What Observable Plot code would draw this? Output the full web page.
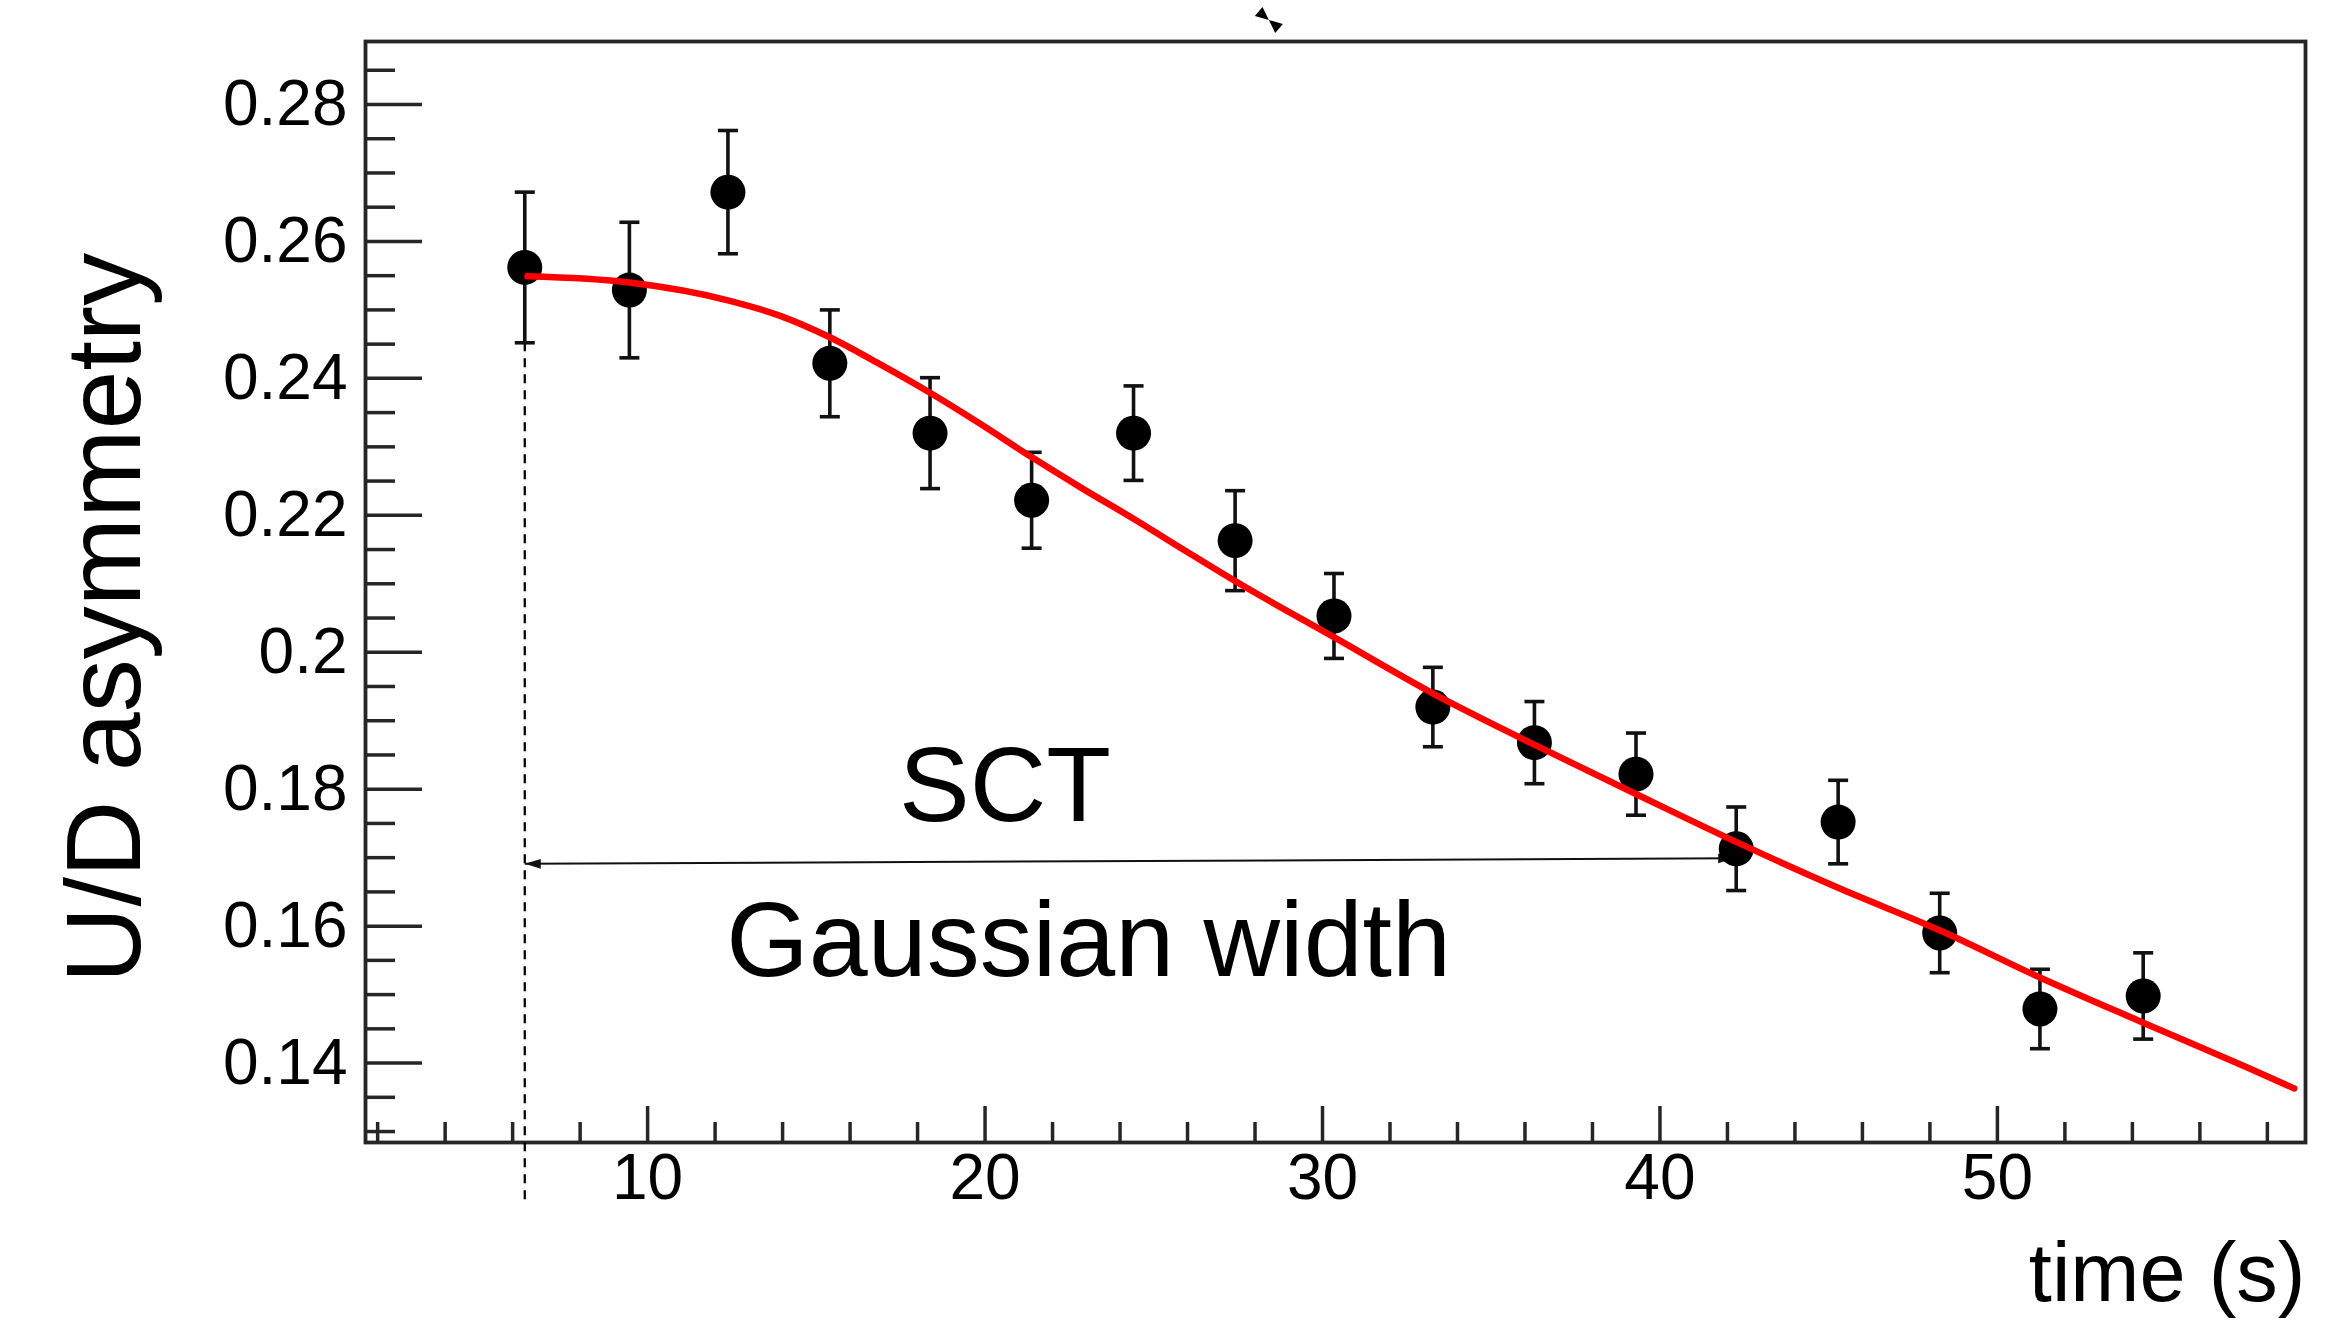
<!DOCTYPE html>
<html>
<head>
<meta charset="utf-8">
<script src="https://cdn.jsdelivr.net/npm/d3@7"></script>
<script src="https://cdn.jsdelivr.net/npm/@observablehq/plot@0.6"></script>
<style>
  html, body { margin: 0; padding: 0; background: #ffffff; }
  #chart svg { display: block; }
</style>
</head>
<body>
<div id="chart"></div>
<script>
// ---- data ----
const times   = [6.36, 9.46, 12.38, 15.40, 18.37, 21.38, 24.40, 27.41, 30.34, 33.27, 36.28, 39.29, 42.26, 45.28, 48.29, 51.26, 54.32];
const asym    = [0.2562, 0.2529, 0.2672, 0.2422, 0.2320, 0.2222, 0.2320, 0.2163, 0.2053, 0.1920, 0.1868, 0.1822, 0.1713, 0.1752, 0.1590, 0.1479, 0.1498];
const asymErr = [0.0110, 0.0099, 0.0090, 0.0078, 0.0081, 0.0070, 0.0069, 0.0073, 0.0062, 0.0058, 0.0060, 0.0060, 0.0061, 0.0061, 0.0058, 0.0058, 0.0063];

const fitTimes = [6.44, 9.46, 12.38, 13.89, 15.40, 16.91, 18.37, 19.88, 21.38, 22.89, 24.40, 25.91, 27.41, 30.34, 33.27, 36.28, 39.29, 42.26, 45.28, 48.29, 51.26, 54.32, 57.34, 58.80];
const fitAsym  = [0.2549, 0.2540, 0.2514, 0.2492, 0.2460, 0.2420, 0.2379, 0.2333, 0.2285, 0.2239, 0.2195, 0.2149, 0.2104, 0.2022, 0.1940, 0.1865, 0.1793, 0.1723, 0.1656, 0.1594, 0.1525, 0.1459, 0.1395, 0.1363];

// ---- axes ----
const xMajorTicks = [10, 20, 30, 40, 50];
const xTickLabels = ["10", "20", "30", "40", "50"];
const xMinorTicks = [2, 4, 6, 8, 12, 14, 16, 18, 22, 24, 26, 28, 32, 34, 36, 38, 42, 44, 46, 48, 52, 54, 56, 58];
const yMajorTicks = [0.14, 0.16, 0.18, 0.2, 0.22, 0.24, 0.26, 0.28];
const yTickLabels = ["0.14", "0.16", "0.18", "0.2", "0.22", "0.24", "0.26", "0.28"];
const yMinorTicks = [0.13, 0.135, 0.145, 0.15, 0.155, 0.165, 0.17, 0.175, 0.185, 0.19, 0.195, 0.205, 0.21, 0.215, 0.225, 0.23, 0.235, 0.245, 0.25, 0.255, 0.265, 0.27, 0.275, 0.285];
const xDomain = [1.64, 59.13];
const yDomain = [0.1284, 0.2892];
const xTitle = "time (s)";
const yTitle = "U/D asymmetry";

// ---- annotations ----
const annoLabels = ["SCT", "Gaussian width"];
const annoTimes  = [20.59, 23.07];
const annoAsym   = [0.1754, 0.1527];
const widthStart = [6.36, 0.1691];   // arrow start (t, asym)
const widthEnd   = [42.2, 0.1699];   // arrow end (t, asym)
const dashedLine = [6.36, 0.2452, 0.1199]; // t, from asym, to asym
const topMarker  = [28.41, 0.29234];

// ---- tables built from the arrays ----
const pts = times.map((t, i) => ({t, a: asym[i], lo: asym[i] - asymErr[i], hi: asym[i] + asymErr[i]}));
const fit = fitTimes.map((t, i) => ({t, a: fitAsym[i]}));
const annos = annoLabels.map((label, i) => ({label, t: annoTimes[i], a: annoAsym[i]}));
const yLabelOf = new Map(yMajorTicks.map((v, i) => [v, yTickLabels[i]]));
const xLabelOf = new Map(xMajorTicks.map((v, i) => [v, xTickLabels[i]]));

// ---- custom symbols ----
const capSymbol = {draw(ctx, size) { const r = Math.sqrt(size / Math.PI); ctx.moveTo(-r, 0); ctx.lineTo(r, 0); }};
const headLeft  = {draw(ctx, size) { const r = Math.sqrt(size / Math.PI); ctx.moveTo(0, 0); ctx.lineTo(2 * r, -0.6 * r); ctx.lineTo(2 * r, 0.6 * r); ctx.closePath(); }};
const headRight = {draw(ctx, size) { const r = Math.sqrt(size / Math.PI); ctx.moveTo(0, 0); ctx.lineTo(-2 * r, -0.6 * r); ctx.lineTo(-2 * r, 0.6 * r); ctx.closePath(); }};
const bowtie = {draw(ctx, size) {
  const r = Math.sqrt(size / Math.PI);
  const ux = 0.766, uy = 0.643, nx = -0.643, ny = 0.766, L = 1.9 * r, W = 0.85 * r;
  ctx.moveTo(0, 0); ctx.lineTo(-L * ux + W * nx, -L * uy + W * ny); ctx.lineTo(-L * ux - W * nx, -L * uy - W * ny); ctx.closePath();
  ctx.moveTo(0, 0); ctx.lineTo(L * ux + W * nx, L * uy + W * ny); ctx.lineTo(L * ux - W * nx, L * uy - W * ny); ctx.closePath();
}};

const axisColor = "#262626";

const chart = Plot.plot({
  width: 2346,
  height: 1321,
  marginLeft: 365,
  marginRight: 41,
  marginTop: 41,
  marginBottom: 179,
  style: {fontFamily: "'Liberation Sans', Arial, sans-serif", background: "#ffffff", color: "#000", overflow: "visible"},
  x: {domain: xDomain},
  y: {domain: yDomain},
  marks: [
    // ticks (ROOT style, inside the frame)
    Plot.axisY({ticks: yMajorTicks, anchor: "left", tickSize: -57, fill: "none", stroke: axisColor, strokeWidth: 3.5, label: null}),
    Plot.axisY({ticks: yMinorTicks, anchor: "left", tickSize: -30, fill: "none", stroke: axisColor, strokeWidth: 3.5, label: null}),
    Plot.axisX({ticks: xMajorTicks, anchor: "bottom", tickSize: -36, fill: "none", stroke: axisColor, strokeWidth: 3.5, label: null}),
    Plot.axisX({ticks: xMinorTicks, anchor: "bottom", tickSize: -20, fill: "none", stroke: axisColor, strokeWidth: 3.5, label: null}),
    // tick labels
    Plot.axisY({ticks: yMajorTicks, anchor: "left", tickSize: 0, tickPadding: 18, fontSize: 64, fill: "#000", tickFormat: d => yLabelOf.get(d), label: null}),
    Plot.axisX({ticks: xMajorTicks, anchor: "bottom", tickSize: 0, tickPadding: 11, fontSize: 64, fill: "#000", tickFormat: d => xLabelOf.get(d), label: null}),
    Plot.frame({stroke: axisColor, strokeWidth: 3.8}),
    // dashed marker line
    Plot.ruleX([dashedLine], {x: d => d[0], y1: d => d[1], y2: d => d[2], stroke: "#000", strokeWidth: 2.3, strokeDasharray: "9,7"}),
    // width arrow
    Plot.link([[widthStart, widthEnd]], {x1: d => d[0][0], y1: d => d[0][1], x2: d => d[1][0], y2: d => d[1][1], stroke: "#111", strokeWidth: 2}),
    Plot.dot([widthStart], {x: d => d[0], y: d => d[1], symbol: headLeft, r: 8, fill: "#111", stroke: "none"}),
    Plot.dot([widthEnd], {x: d => d[0], y: d => d[1], symbol: headRight, r: 8, fill: "#111", stroke: "none"}),
    // error bars
    Plot.ruleX(pts, {x: "t", y1: "lo", y2: "hi", stroke: "#111", strokeWidth: 3.6}),
    Plot.dot(pts, {x: "t", y: "lo", symbol: capSymbol, r: 10, fill: "none", stroke: "#111", strokeWidth: 3.6}),
    Plot.dot(pts, {x: "t", y: "hi", symbol: capSymbol, r: 10, fill: "none", stroke: "#111", strokeWidth: 3.6}),
    // data points
    Plot.dot(pts, {x: "t", y: "a", r: 17.5, fill: "#000", stroke: "none"}),
    // fit
    Plot.line(fit, {x: "t", y: "a", stroke: "#ff0000", strokeWidth: 6.5, curve: "monotone-x"}),
    // annotation text
    Plot.text(annos, {x: "t", y: "a", text: "label", textAnchor: "middle", lineAnchor: "bottom", fontSize: 106, fill: "#000"}),
    // small marker above the frame
    Plot.dot([topMarker], {x: d => d[0], y: d => d[1], symbol: bowtie, r: 7, fill: "#000", stroke: "none"}),
    // axis titles
    Plot.text([yTitle], {frameAnchor: "left", rotate: -90, textAnchor: "middle", lineAnchor: "bottom", dx: -226, dy: 26, fontSize: 106, fill: "#000"}),
    Plot.text([xTitle], {frameAnchor: "bottom-right", textAnchor: "end", lineAnchor: "bottom", dy: 158, fontSize: 83, fill: "#000"})
  ]
});
document.getElementById("chart").appendChild(chart);
</script>
</body>
</html>
